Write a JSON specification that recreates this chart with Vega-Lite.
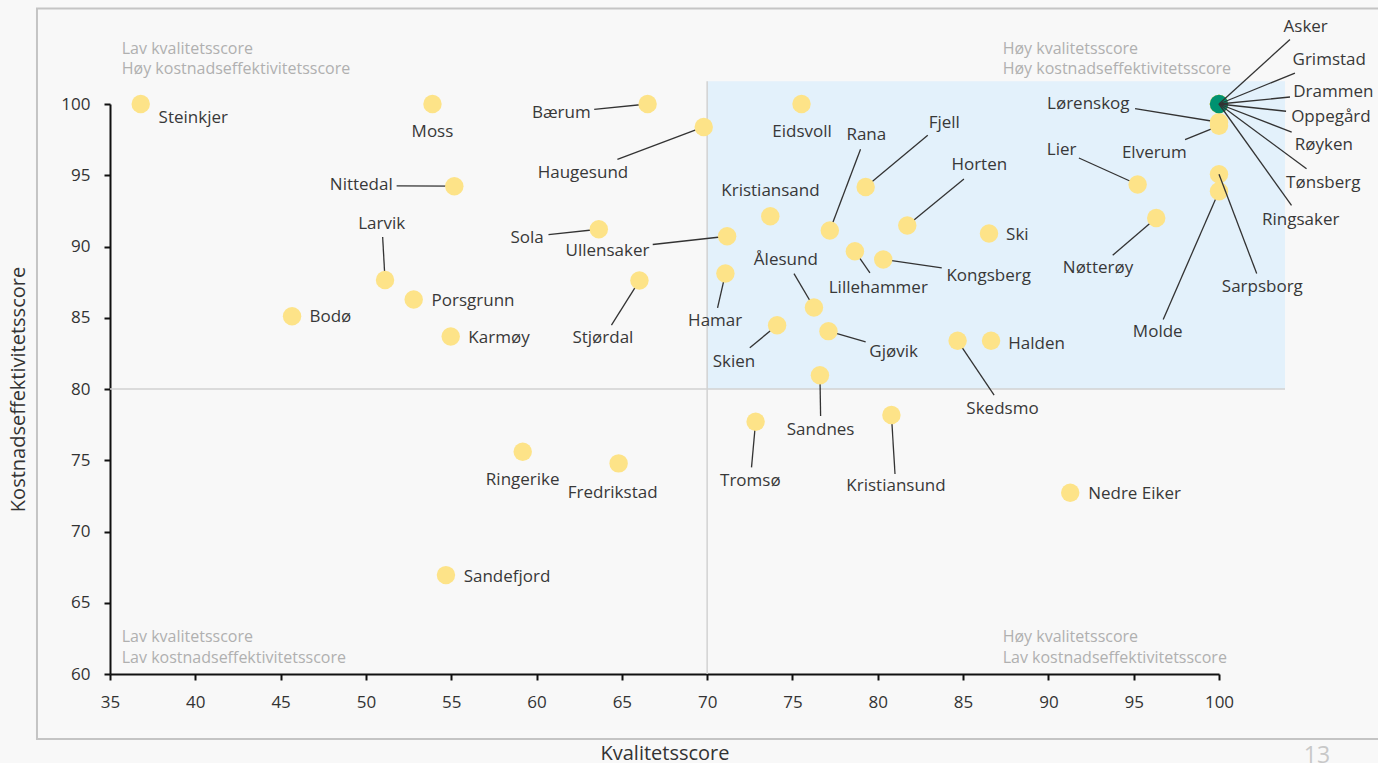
{
  "$schema": "https://vega.github.io/schema/vega-lite/v6.json",
  "width": 1109,
  "height": 570,
  "autosize": {"type": "none"},
  "padding": {"left": 110, "top": 104, "right": 159, "bottom": 89},
  "background": "#f8f8f8",
  "config": {
    "view": {"stroke": null},
    "font": "Open Sans",
    "axis": {
      "grid": false,
      "domainColor": "#111111", "domainWidth": 2,
      "tickColor": "#111111", "tickWidth": 2, "tickSize": 6,
      "labelFont": "Open Sans", "labelFontSize": 17, "labelColor": "#333333",
      "labelFlush": false, "labelOverlap": false,
      "titleFont": "Open Sans", "titleFontSize": 20, "titleFontWeight": "normal", "titleColor": "#333333"
    },
    "axisX": {"labelPadding": 14},
    "axisY": {"labelPadding": 14}
  },
  "data": {"values": [{}]},
  "datasets": {
    "kommuner": [
      {"navn": "Steinkjer", "x": 36.8, "y": 100, "tx": 39.88, "ty": 99.02, "ex": null, "ey": null, "utvalgt": "nei"},
      {"navn": "Moss", "x": 53.9, "y": 100, "tx": 53.9, "ty": 98.03, "ex": null, "ey": null, "utvalgt": "nei"},
      {"navn": "Nittedal", "x": 55.18, "y": 94.23, "tx": 49.73, "ty": 94.3, "ex": 51.8, "ey": 94.26, "utvalgt": "nei"},
      {"navn": "Larvik", "x": 51.12, "y": 87.65, "tx": 50.92, "ty": 91.56, "ex": 50.98, "ey": 90.67, "utvalgt": "nei"},
      {"navn": "Porsgrunn", "x": 52.8, "y": 86.28, "tx": 56.28, "ty": 86.18, "ex": null, "ey": null, "utvalgt": "nei"},
      {"navn": "Bodø", "x": 45.67, "y": 85.11, "tx": 47.92, "ty": 85.02, "ex": null, "ey": null, "utvalgt": "nei"},
      {"navn": "Karmøy", "x": 54.97, "y": 83.69, "tx": 57.8, "ty": 83.6, "ex": null, "ey": null, "utvalgt": "nei"},
      {"navn": "Bærum", "x": 66.51, "y": 100, "tx": 61.45, "ty": 99.37, "ex": 63.38, "ey": 99.63, "utvalgt": "nei"},
      {"navn": "Haugesund", "x": 69.8, "y": 98.39, "tx": 62.72, "ty": 95.16, "ex": 64.74, "ey": 96.12, "utvalgt": "nei"},
      {"navn": "Eidsvoll", "x": 75.53, "y": 100, "tx": 75.56, "ty": 98.03, "ex": null, "ey": null, "utvalgt": "nei"},
      {"navn": "Kristiansand", "x": 73.7, "y": 92.12, "tx": 73.71, "ty": 93.9, "ex": null, "ey": null, "utvalgt": "nei"},
      {"navn": "Sola", "x": 63.65, "y": 91.21, "tx": 59.45, "ty": 90.63, "ex": 60.7, "ey": 90.84, "utvalgt": "nei"},
      {"navn": "Ullensaker", "x": 71.17, "y": 90.72, "tx": 64.16, "ty": 89.69, "ex": 66.81, "ey": 90.14, "utvalgt": "nei"},
      {"navn": "Stjørdal", "x": 66.03, "y": 87.61, "tx": 63.89, "ty": 83.59, "ex": 64.39, "ey": 84.48, "utvalgt": "nei"},
      {"navn": "Hamar", "x": 71.07, "y": 88.1, "tx": 70.47, "ty": 84.78, "ex": 70.61, "ey": 85.69, "utvalgt": "nei"},
      {"navn": "Rana", "x": 77.19, "y": 91.12, "tx": 79.33, "ty": 97.8, "ex": 78.99, "ey": 96.82, "utvalgt": "nei"},
      {"navn": "Fjell", "x": 79.29, "y": 94.18, "tx": 83.9, "ty": 98.67, "ex": 82.93, "ey": 97.8, "utvalgt": "nei"},
      {"navn": "Horten", "x": 81.73, "y": 91.47, "tx": 85.95, "ty": 95.7, "ex": 85.05, "ey": 94.74, "utvalgt": "nei"},
      {"navn": "Ski", "x": 86.52, "y": 90.91, "tx": 88.18, "ty": 90.79, "ex": null, "ey": null, "utvalgt": "nei"},
      {"navn": "Ålesund", "x": 76.26, "y": 85.72, "tx": 74.61, "ty": 89.04, "ex": 75.09, "ey": 88.1, "utvalgt": "nei"},
      {"navn": "Lillehammer", "x": 78.66, "y": 89.67, "tx": 80.03, "ty": 87.09, "ex": 79.54, "ey": 88.15, "utvalgt": "nei"},
      {"navn": "Kongsberg", "x": 80.32, "y": 89.09, "tx": 86.5, "ty": 87.91, "ex": 83.75, "ey": 88.5, "utvalgt": "nei"},
      {"navn": "Skien", "x": 74.1, "y": 84.48, "tx": 71.57, "ty": 81.9, "ex": 72.5, "ey": 82.89, "utvalgt": "nei"},
      {"navn": "Gjøvik", "x": 77.11, "y": 84.06, "tx": 80.93, "ty": 82.58, "ex": 79.29, "ey": 83.31, "utvalgt": "nei"},
      {"navn": "Skedsmo", "x": 84.68, "y": 83.38, "tx": 87.31, "ty": 78.59, "ex": 86.82, "ey": 79.57, "utvalgt": "nei"},
      {"navn": "Halden", "x": 86.64, "y": 83.38, "tx": 89.31, "ty": 83.19, "ex": null, "ey": null, "utvalgt": "nei"},
      {"navn": "Sandnes", "x": 76.61, "y": 80.97, "tx": 76.65, "ty": 77.11, "ex": 76.65, "ey": 78.1, "utvalgt": "nei"},
      {"navn": "Tromsø", "x": 72.84, "y": 77.7, "tx": 72.53, "ty": 73.54, "ex": 72.6, "ey": 74.5, "utvalgt": "nei"},
      {"navn": "Kristiansund", "x": 80.8, "y": 78.17, "tx": 81.07, "ty": 73.19, "ex": 81.01, "ey": 74.03, "utvalgt": "nei"},
      {"navn": "Nedre Eiker", "x": 91.28, "y": 72.72, "tx": 95.05, "ty": 72.6, "ex": null, "ey": null, "utvalgt": "nei"},
      {"navn": "Ringerike", "x": 59.19, "y": 75.59, "tx": 59.19, "ty": 73.61, "ex": null, "ey": null, "utvalgt": "nei"},
      {"navn": "Fredrikstad", "x": 64.81, "y": 74.78, "tx": 64.46, "ty": 72.67, "ex": null, "ey": null, "utvalgt": "nei"},
      {"navn": "Sandefjord", "x": 54.69, "y": 66.94, "tx": 58.27, "ty": 66.82, "ex": null, "ey": null, "utvalgt": "nei"},
      {"navn": "Lier", "x": 95.23, "y": 94.35, "tx": 90.78, "ty": 96.75, "ex": 91.79, "ey": 96.21, "utvalgt": "nei"},
      {"navn": "Nøtterøy", "x": 96.32, "y": 92.0, "tx": 92.91, "ty": 88.5, "ex": 93.77, "ey": 89.39, "utvalgt": "nei"},
      {"navn": "Sarpsborg", "x": 100, "y": 95.07, "tx": 102.54, "ty": 87.16, "ex": 102.21, "ey": 88.1, "utvalgt": "nei"},
      {"navn": "Molde", "x": 100, "y": 93.88, "tx": 96.41, "ty": 83.97, "ex": 96.73, "ey": 84.88, "utvalgt": "nei"},
      {"navn": "Lørenskog", "x": 100, "y": 98.72, "tx": 92.34, "ty": 100.03, "ex": 95.08, "ey": 99.68, "utvalgt": "nei"},
      {"navn": "Elverum", "x": 100, "y": 98.47, "tx": 96.21, "ty": 96.56, "ex": 98.01, "ey": 97.5, "utvalgt": "nei"},
      {"navn": "Grimstad", "x": 100, "y": 100, "tx": 106.46, "ty": 103.06, "ex": 104.45, "ey": 102.17, "utvalgt": "nei"},
      {"navn": "Drammen", "x": 100, "y": 100, "tx": 106.7, "ty": 100.84, "ex": 104.16, "ey": 100.49, "utvalgt": "nei"},
      {"navn": "Oppegård", "x": 100, "y": 100, "tx": 106.56, "ty": 99.09, "ex": 103.93, "ey": 99.49, "utvalgt": "nei"},
      {"navn": "Røyken", "x": 100, "y": 100, "tx": 106.15, "ty": 97.1, "ex": 104.26, "ey": 98.03, "utvalgt": "nei"},
      {"navn": "Tønsberg", "x": 100, "y": 100, "tx": 106.11, "ty": 94.46, "ex": 105.13, "ey": 95.45, "utvalgt": "nei"},
      {"navn": "Ringsaker", "x": 100, "y": 100, "tx": 104.79, "ty": 91.89, "ex": 104.25, "ey": 92.89, "utvalgt": "nei"},
      {"navn": "Asker", "x": 100, "y": 100, "tx": 105.08, "ty": 105.4, "ex": 104.16, "ey": 104.52, "utvalgt": "ja"}
    ],
    "hjorner": [
      {"tekst": "Lav kvalitetsscore", "x": 35.69, "y": 103.88},
      {"tekst": "Høy kostnadseffektivitetsscore", "x": 35.69, "y": 102.43},
      {"tekst": "Høy kvalitetsscore", "x": 87.32, "y": 103.88},
      {"tekst": "Høy kostnadseffektivitetsscore", "x": 87.32, "y": 102.43},
      {"tekst": "Lav kvalitetsscore", "x": 35.69, "y": 62.57},
      {"tekst": "Lav kostnadseffektivitetsscore", "x": 35.69, "y": 61.1},
      {"tekst": "Høy kvalitetsscore", "x": 87.32, "y": 62.57},
      {"tekst": "Lav kostnadseffektivitetsscore", "x": 87.32, "y": 61.1}
    ]
  },
  "layer": [
    {
      "mark": {"type": "rect", "fill": null, "stroke": "#c4c4c4", "strokeWidth": 2},
      "encoding": {
        "x": {
          "datum": 30.72, "type": "quantitative", "title": "Kvalitetsscore",
          "scale": {"domain": [35, 100], "nice": false, "zero": false},
          "axis": {
            "values": [35, 40, 45, 50, 55, 60, 65, 70, 75, 80, 85, 90, 95, 100],
            "titleY": 79, "titleBaseline": "middle"
          }
        },
        "x2": {"datum": 111},
        "y": {
          "datum": 106.71, "type": "quantitative", "title": "Kostnadseffektivitetsscore",
          "scale": {"domain": [60, 100], "nice": false, "zero": false},
          "axis": {
            "values": [60, 65, 70, 75, 80, 85, 90, 95, 100],
            "titleX": -92, "titleY": 285, "titleAngle": 270, "titleBaseline": "middle", "titleAlign": "center"
          }
        },
        "y2": {"datum": 55.44}
      }
    },
    {
      "mark": {"type": "rect", "fill": "#e3f1fb"},
      "encoding": {
        "x": {"datum": 70, "type": "quantitative", "title": "Kvalitetsscore"},
        "x2": {"datum": 103.87},
        "y": {"datum": 80, "type": "quantitative", "title": "Kostnadseffektivitetsscore"},
        "y2": {"datum": 101.59}
      }
    },
    {
      "mark": {"type": "rule", "color": "#d2d2d2", "strokeWidth": 1.5},
      "encoding": {
        "x": {"datum": 70, "type": "quantitative", "title": "Kvalitetsscore"},
        "y": {"datum": 60, "type": "quantitative", "title": "Kostnadseffektivitetsscore"},
        "y2": {"datum": 101.59}
      }
    },
    {
      "mark": {"type": "rule", "color": "#d2d2d2", "strokeWidth": 1.5},
      "encoding": {
        "y": {"datum": 80, "type": "quantitative", "title": "Kostnadseffektivitetsscore"},
        "x": {"datum": 35, "type": "quantitative", "title": "Kvalitetsscore"},
        "x2": {"datum": 103.87}
      }
    },
    {
      "data": {"name": "hjorner"},
      "mark": {"type": "text", "align": "left", "baseline": "middle", "font": "Open Sans", "fontSize": 16, "color": "#b0b0b0"},
      "encoding": {
        "x": {"field": "x", "type": "quantitative", "title": "Kvalitetsscore"},
        "y": {"field": "y", "type": "quantitative", "title": "Kostnadseffektivitetsscore"},
        "text": {"field": "tekst"}
      }
    },
    {
      "data": {"name": "kommuner"},
      "transform": [{"filter": "isValid(datum.ex) && !(datum.x == 100 && datum.y == 100) && datum.navn != 'Sarpsborg'"}],
      "mark": {"type": "rule", "color": "#333333", "strokeWidth": 1.3},
      "encoding": {
        "x": {"field": "x", "type": "quantitative", "title": "Kvalitetsscore"},
        "y": {"field": "y", "type": "quantitative", "title": "Kostnadseffektivitetsscore"},
        "x2": {"field": "ex"},
        "y2": {"field": "ey"}
      }
    },
    {
      "data": {"name": "kommuner"},
      "mark": {"type": "circle", "size": 340, "opacity": 1},
      "encoding": {
        "x": {"field": "x", "type": "quantitative", "title": "Kvalitetsscore"},
        "y": {"field": "y", "type": "quantitative", "title": "Kostnadseffektivitetsscore"},
        "color": {
          "field": "utvalgt", "type": "nominal",
          "scale": {"domain": ["nei", "ja"], "range": ["#fde388", "#009270"]},
          "legend": null
        }
      }
    },
    {
      "data": {"name": "kommuner"},
      "transform": [{"filter": "isValid(datum.ex) && ((datum.x == 100 && datum.y == 100) || datum.navn == 'Sarpsborg')"}],
      "mark": {"type": "rule", "color": "#333333", "strokeWidth": 1.3},
      "encoding": {
        "x": {"field": "x", "type": "quantitative", "title": "Kvalitetsscore"},
        "y": {"field": "y", "type": "quantitative", "title": "Kostnadseffektivitetsscore"},
        "x2": {"field": "ex"},
        "y2": {"field": "ey"}
      }
    },
    {
      "data": {"name": "kommuner"},
      "mark": {"type": "text", "align": "center", "baseline": "middle", "font": "Open Sans", "fontSize": 17, "color": "#383838"},
      "encoding": {
        "x": {"field": "tx", "type": "quantitative", "title": "Kvalitetsscore"},
        "y": {"field": "ty", "type": "quantitative", "title": "Kostnadseffektivitetsscore"},
        "text": {"field": "navn"}
      }
    },
    {
      "mark": {"type": "text", "align": "center", "baseline": "alphabetic", "font": "Open Sans", "fontSize": 23, "color": "#c8c8c8"},
      "encoding": {
        "x": {"datum": 105.74, "type": "quantitative", "title": "Kvalitetsscore"},
        "y": {"datum": 53.76, "type": "quantitative", "title": "Kostnadseffektivitetsscore"},
        "text": {"value": "13"}
      }
    }
  ]
}
